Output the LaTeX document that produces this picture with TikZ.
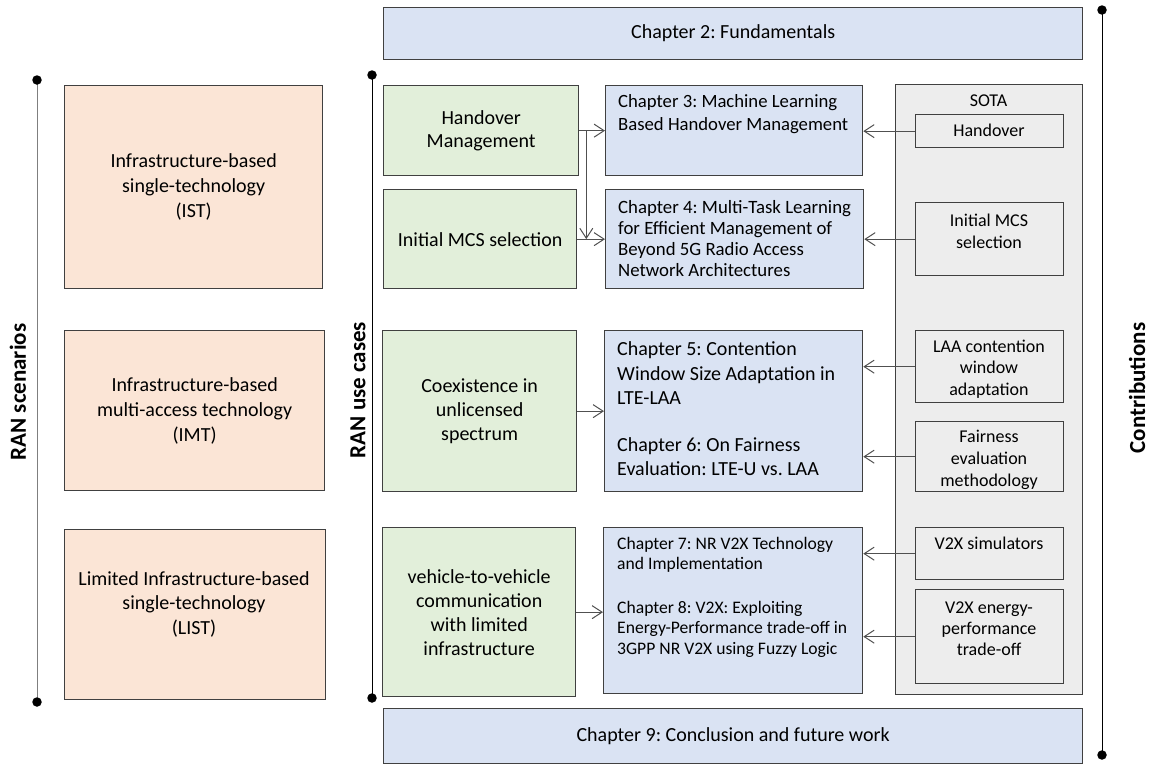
\documentclass[tikz,border=0pt]{standalone}
\usepackage{fontspec}
\setmainfont{Carlito}
\usetikzlibrary{arrows.meta}
\frenchspacing

\definecolor{peach}{HTML}{FBE5D6}
\definecolor{leaf}{HTML}{E2EFDA}
\definecolor{sky}{HTML}{DAE3F3}
\definecolor{ash}{HTML}{EDEDED}
\definecolor{edge}{HTML}{404040}
\definecolor{wire}{HTML}{505050}
\definecolor{rail}{HTML}{7F7F7F}

\begin{document}
\begin{tikzpicture}[x=1pt,y=-1pt,
  fs/.style 2 args={font=\fontsize{#1}{#2}\selectfont},
  box/.style={draw=edge, line width=1.3pt, inner sep=0pt, anchor=north west, align=center},
  scenario/.style={box, fill=peach, fs={20}{25}},
  usecase/.style={box, fill=leaf},
  chapter/.style={box, fill=sky},
  sota/.style={box, fill=ash, minimum width=148},
  txt/.style={inner sep=0pt, align=center},
  chtxt/.style={inner sep=0pt, align=left, anchor=west},
  link/.style={draw=wire, line width=1pt, -{Straight Barb[length=10pt,width=13pt,line width=1pt]}},
  axisline/.style={line width=1pt},
  dot/.style={circle, fill=black, inner sep=0pt, minimum size=9.5pt},
  side/.style={rotate=90, font=\fontsize{23}{27}\selectfont\bfseries}]

\useasboundingbox (0,0) rectangle (1149,764);

% ---- timeline rails with end dots ----
\coordinate (scen-top) at (37,80);
\coordinate (scen-bot) at (37,702);
\coordinate (use-top) at (372,75);
\coordinate (use-bot) at (372,698);
\coordinate (con-top) at (1102,10);
\coordinate (con-bot) at (1102,755);
\draw[axisline, rail] (scen-top) -- (scen-bot);
\draw[axisline] (use-top) -- (use-bot);
\draw[axisline] (con-top) -- (con-bot);
\node[dot] (scen-top-dot) at (scen-top) {};
\node[dot] (scen-bot-dot) at (scen-bot) {};
\node[dot] (use-top-dot) at (use-top) {};
\node[dot] (use-bot-dot) at (use-bot) {};
\node[dot] (con-top-dot) at (con-top) {};
\node[dot] (con-bot-dot) at (con-bot) {};

\node[side] (scen-lbl) at (18,392) {RAN scenarios};
\node[side] (use-lbl) at (358,390) {RAN use cases};
\node[side] (con-lbl) at (1137,388) {Contributions};

% ---- framing chapters ----
\node[chapter, minimum width=699, minimum height=52, fs={20}{24}] (ch2) at (383,7) {Chapter 2: Fundamentals};
\node[chapter, minimum width=699, minimum height=55, fs={20}{24}] (ch9) at (383,708) {Chapter 9: Conclusion and future work};

% ---- RAN scenarios ----
\node[scenario, minimum width=258, minimum height=203] (ist) at (64,85) {Infrastructure-based\\single-technology\\(IST)};
\node[scenario, minimum width=260, minimum height=160] (imt) at (64,330) {Infrastructure-based\\multi-access technology\\(IMT)};
\node[scenario, minimum width=261, minimum height=170] (list) at (64,529) {};
\node[txt, fs={20}{24.5}] (list-txt) at (194,604) {Limited Infrastructure-based\\single-technology\\(LIST)};

% ---- RAN use cases ----
\node[usecase, minimum width=195, minimum height=90, fs={20}{22.5}] (ho) at (383,85) {Handover\\Management};
\node[usecase, minimum width=193, minimum height=99, fs={20}{24}] (mcs) at (383,189) {Initial MCS selection};
\node[usecase, minimum width=194, minimum height=161, fs={20}{24}] (coex) at (382,330) {Coexistence in\\unlicensed\\spectrum};
\node[usecase, minimum width=193, minimum height=169, fs={20}{24}] (v2v) at (382,527) {vehicle-to-vehicle\\communication\\with limited\\infrastructure};

% ---- thesis chapters ----
\node[chapter, minimum width=257, minimum height=90] (ch3) at (605,85) {};
\node[chtxt, fs={18.7}{23}] (ch3-txt) at (618,114) {Chapter 3: Machine Learning\\Based Handover Management};
\node[chapter, minimum width=258, minimum height=99] (ch4) at (605,189) {};
\node[chtxt, fs={18.8}{21}] (ch4-txt) at (618,239) {Chapter 4: Multi-Task Learning\\for Efficient Management of\\Beyond 5G Radio Access\\Network Architectures};
\node[chapter, minimum width=258, minimum height=161] (ch56) at (604,330) {};
\node[chtxt, fs={20}{24.3}] (ch56-txt) at (617,409)
  {Chapter 5: Contention\\Window Size Adaptation in\\LTE-LAA\\[23pt]Chapter 6: On Fairness\\Evaluation: LTE-U vs. LAA};
\node[chapter, minimum width=259, minimum height=166] (ch78) at (603,527) {};
\node[chtxt, fs={17.6}{20.5}] (ch78-txt) at (617,597)
  {Chapter 7: NR V2X Technology\\and Implementation\\[23pt]Chapter 8: V2X: Exploiting\\Energy-Performance trade-off in\\3GPP NR V2X using Fuzzy Logic};

% ---- state of the art column ----
\node[box, fill=ash, minimum width=187, minimum height=610] (sota) at (895,84) {};
\node[txt, fs={18}{22}] (sota-lbl) at (988.5,101) {SOTA};
\node[sota, minimum height=33] (s-ho) at (915,114) {};
\node[txt, fs={18}{22}] (s-ho-txt) at (989,130) {Handover};
\node[sota, minimum height=73] (s-mcs) at (915,202) {};
\node[txt, fs={18}{21.7}] (s-mcs-txt) at (989,231) {Initial MCS\\selection};
\node[sota, minimum height=72] (s-laa) at (915,330) {};
\node[txt, fs={18}{21.7}] (s-laa-txt) at (989,369) {LAA contention\\window\\adaptation};
\node[sota, minimum height=70] (s-fair) at (915,421) {};
\node[txt, fs={18}{21.7}] (s-fair-txt) at (989,460) {Fairness\\evaluation\\methodology};
\node[sota, minimum height=52] (s-sim) at (915,527) {};
\node[txt, fs={18}{22}] (s-sim-txt) at (989,543) {V2X simulators};
\node[sota, minimum height=94] (s-energy) at (915,589) {};
\node[txt, fs={18}{21}] (s-energy-txt) at (989,629) {V2X energy-\\performance\\trade-off};

% ---- use case to chapter links ----
\draw[link] (ho.east) -- (ch3.west);
\draw[link] ([xshift=7pt]ho.east) -- ([xshift=7pt]ho.east |- mcs.east);
\draw[link] (mcs.east) -- (ch4.west);
\draw[link] (coex.east) -- (ch56.west);
\draw[link] (v2v.east) -- (v2v.east -| ch78.west);

% ---- state of the art to chapter links ----
\draw[link] (s-ho.west) -- (s-ho.west -| ch3.east);
\draw[link] (s-mcs.west) -- (s-mcs.west -| ch4.east);
\draw[link] (s-laa.west) -- (s-laa.west -| ch56.east);
\draw[link] (s-fair.west) -- (s-fair.west -| ch56.east);
\draw[link] (s-sim.west) -- (s-sim.west -| ch78.east);
\draw[link] (s-energy.west) -- (s-energy.west -| ch78.east);

\end{tikzpicture}
\end{document}
